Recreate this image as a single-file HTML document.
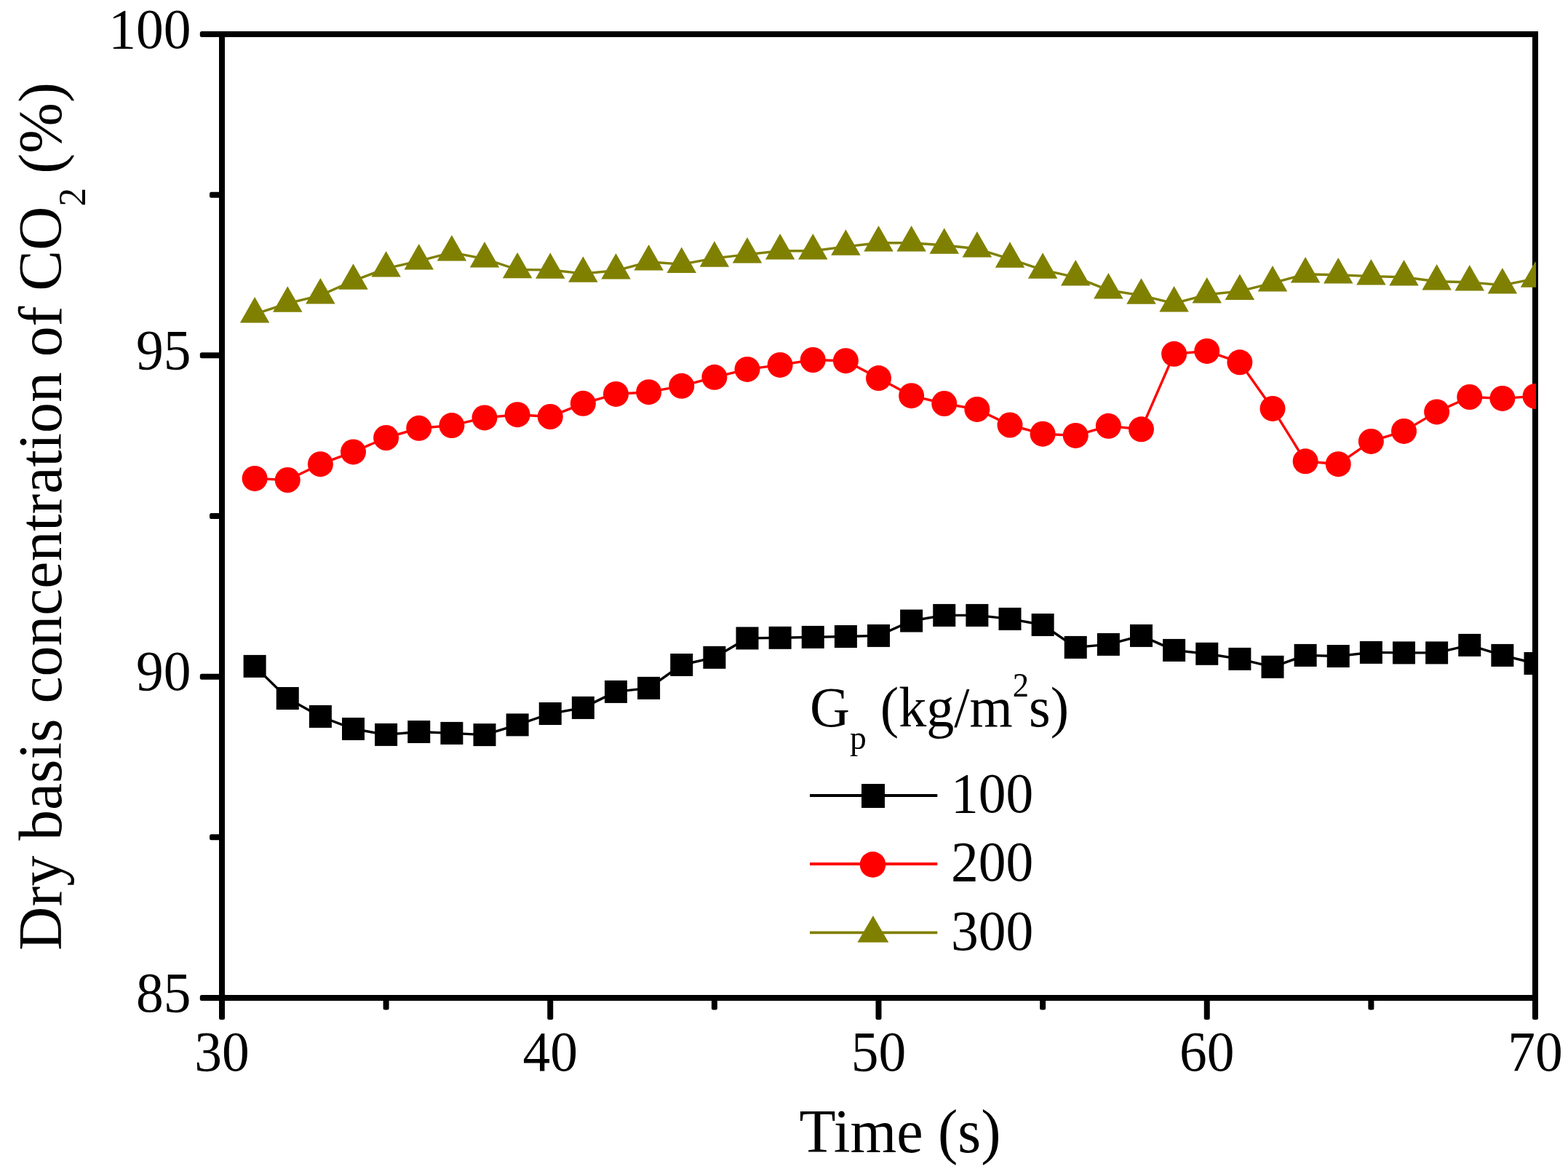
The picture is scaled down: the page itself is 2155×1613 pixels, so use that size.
<!DOCTYPE html>
<html><head><meta charset="utf-8"><title>Dry basis concentration of CO2</title>
<style>
html,body{margin:0;padding:0;background:#ffffff;}
body{width:2155px;height:1613px;overflow:hidden;}
svg{display:block;}
text{font-family:"Liberation Serif","Times New Roman",serif;fill:#000;}
</style></head><body>
<svg width="2155" height="1613" viewBox="0 0 2155 1613">
<defs><clipPath id="pc"><rect x="300" y="40" width="1811" height="1340"/></clipPath></defs>
<rect x="0" y="0" width="2155" height="1613" fill="#ffffff"/>

<g fill="none" stroke="#000" stroke-width="8" >
<rect x="305" y="47" width="1805" height="1324" stroke-linejoin="miter"/>
</g>
<g fill="#000">
<rect x="274.8" y="43" width="30.2" height="8" rx="2.5"/>
<rect x="288" y="263.67" width="17" height="8" rx="2.5"/>
<rect x="274.8" y="484.33" width="30.2" height="8" rx="2.5"/>
<rect x="288" y="705" width="17" height="8" rx="2.5"/>
<rect x="274.8" y="925.67" width="30.2" height="8" rx="2.5"/>
<rect x="288" y="1146.33" width="17" height="8" rx="2.5"/>
<rect x="274.8" y="1367" width="30.2" height="8" rx="2.5"/>
<rect x="301" y="1371" width="8" height="30" rx="2.5"/>
<rect x="526.62" y="1371" width="8" height="16.5" rx="2.5"/>
<rect x="752.25" y="1371" width="8" height="30" rx="2.5"/>
<rect x="977.88" y="1371" width="8" height="16.5" rx="2.5"/>
<rect x="1203.5" y="1371" width="8" height="30" rx="2.5"/>
<rect x="1429.12" y="1371" width="8" height="16.5" rx="2.5"/>
<rect x="1654.75" y="1371" width="8" height="30" rx="2.5"/>
<rect x="1880.38" y="1371" width="8" height="16.5" rx="2.5"/>
<rect x="2106" y="1371" width="8" height="30" rx="2.5"/>
</g>
<g clip-path="url(#pc)">
<polyline fill="none" stroke="#000000" stroke-width="3.4" stroke-linejoin="round" points="350.12,915.4 395.25,959.5 440.38,984.4 485.5,1001.5 530.62,1009.4 575.75,1005.5 620.88,1007.4 666,1009.6 711.12,995.9 756.25,980.5 801.38,972.4 846.5,950.4 891.62,945.4 936.75,913.5 981.88,903.3 1027,876.9 1072.12,876.3 1117.25,875.4 1162.38,874.5 1207.5,873.4 1252.62,853 1297.75,845.4 1342.88,845.4 1388,850.4 1433.12,858.5 1478.25,889.4 1523.38,885.4 1568.5,873.4 1613.62,893.4 1658.75,898.3 1703.88,905.4 1749,916.3 1794.12,900.4 1839.25,901.5 1884.38,896.4 1929.5,896.9 1974.62,896.9 2019.75,886.4 2064.88,900.4 2110,911.5"/>
<g fill="#000000">
<rect x="334.62" y="899.9" width="31" height="31"/>
<rect x="379.75" y="944" width="31" height="31"/>
<rect x="424.88" y="968.9" width="31" height="31"/>
<rect x="470" y="986" width="31" height="31"/>
<rect x="515.12" y="993.9" width="31" height="31"/>
<rect x="560.25" y="990" width="31" height="31"/>
<rect x="605.38" y="991.9" width="31" height="31"/>
<rect x="650.5" y="994.1" width="31" height="31"/>
<rect x="695.62" y="980.4" width="31" height="31"/>
<rect x="740.75" y="965" width="31" height="31"/>
<rect x="785.88" y="956.9" width="31" height="31"/>
<rect x="831" y="934.9" width="31" height="31"/>
<rect x="876.12" y="929.9" width="31" height="31"/>
<rect x="921.25" y="898" width="31" height="31"/>
<rect x="966.38" y="887.8" width="31" height="31"/>
<rect x="1011.5" y="861.4" width="31" height="31"/>
<rect x="1056.62" y="860.8" width="31" height="31"/>
<rect x="1101.75" y="859.9" width="31" height="31"/>
<rect x="1146.88" y="859" width="31" height="31"/>
<rect x="1192" y="857.9" width="31" height="31"/>
<rect x="1237.12" y="837.5" width="31" height="31"/>
<rect x="1282.25" y="829.9" width="31" height="31"/>
<rect x="1327.38" y="829.9" width="31" height="31"/>
<rect x="1372.5" y="834.9" width="31" height="31"/>
<rect x="1417.62" y="843" width="31" height="31"/>
<rect x="1462.75" y="873.9" width="31" height="31"/>
<rect x="1507.88" y="869.9" width="31" height="31"/>
<rect x="1553" y="857.9" width="31" height="31"/>
<rect x="1598.12" y="877.9" width="31" height="31"/>
<rect x="1643.25" y="882.8" width="31" height="31"/>
<rect x="1688.38" y="889.9" width="31" height="31"/>
<rect x="1733.5" y="900.8" width="31" height="31"/>
<rect x="1778.62" y="884.9" width="31" height="31"/>
<rect x="1823.75" y="886" width="31" height="31"/>
<rect x="1868.88" y="880.9" width="31" height="31"/>
<rect x="1914" y="881.4" width="31" height="31"/>
<rect x="1959.12" y="881.4" width="31" height="31"/>
<rect x="2004.25" y="870.9" width="31" height="31"/>
<rect x="2049.38" y="884.9" width="31" height="31"/>
<rect x="2094.5" y="896" width="31" height="31"/>
</g>
<polyline fill="none" stroke="#ff0000" stroke-width="3.4" stroke-linejoin="round" points="350.12,657.4 395.25,659.5 440.38,637.7 485.5,620.9 530.62,601.5 575.75,588.3 620.88,584.6 666,573.9 711.12,569.7 756.25,572.5 801.38,554.3 846.5,541.4 891.62,538.7 936.75,530.3 981.88,518.3 1027,507.4 1072.12,501.4 1117.25,494.5 1162.38,495.7 1207.5,519.6 1252.62,543.7 1297.75,554.5 1342.88,562.4 1388,584 1433.12,596.2 1478.25,598.4 1523.38,585.3 1568.5,589.8 1613.62,486.3 1658.75,482.4 1703.88,497.8 1749,561.4 1794.12,633.8 1839.25,637.7 1884.38,606.4 1929.5,592.4 1974.62,565.9 2019.75,545.5 2064.88,547.4 2110,544.4"/>
<g fill="#ff0000">
<circle cx="350.12" cy="657.4" r="17.5"/>
<circle cx="395.25" cy="659.5" r="17.5"/>
<circle cx="440.38" cy="637.7" r="17.5"/>
<circle cx="485.5" cy="620.9" r="17.5"/>
<circle cx="530.62" cy="601.5" r="17.5"/>
<circle cx="575.75" cy="588.3" r="17.5"/>
<circle cx="620.88" cy="584.6" r="17.5"/>
<circle cx="666" cy="573.9" r="17.5"/>
<circle cx="711.12" cy="569.7" r="17.5"/>
<circle cx="756.25" cy="572.5" r="17.5"/>
<circle cx="801.38" cy="554.3" r="17.5"/>
<circle cx="846.5" cy="541.4" r="17.5"/>
<circle cx="891.62" cy="538.7" r="17.5"/>
<circle cx="936.75" cy="530.3" r="17.5"/>
<circle cx="981.88" cy="518.3" r="17.5"/>
<circle cx="1027" cy="507.4" r="17.5"/>
<circle cx="1072.12" cy="501.4" r="17.5"/>
<circle cx="1117.25" cy="494.5" r="17.5"/>
<circle cx="1162.38" cy="495.7" r="17.5"/>
<circle cx="1207.5" cy="519.6" r="17.5"/>
<circle cx="1252.62" cy="543.7" r="17.5"/>
<circle cx="1297.75" cy="554.5" r="17.5"/>
<circle cx="1342.88" cy="562.4" r="17.5"/>
<circle cx="1388" cy="584" r="17.5"/>
<circle cx="1433.12" cy="596.2" r="17.5"/>
<circle cx="1478.25" cy="598.4" r="17.5"/>
<circle cx="1523.38" cy="585.3" r="17.5"/>
<circle cx="1568.5" cy="589.8" r="17.5"/>
<circle cx="1613.62" cy="486.3" r="17.5"/>
<circle cx="1658.75" cy="482.4" r="17.5"/>
<circle cx="1703.88" cy="497.8" r="17.5"/>
<circle cx="1749" cy="561.4" r="17.5"/>
<circle cx="1794.12" cy="633.8" r="17.5"/>
<circle cx="1839.25" cy="637.7" r="17.5"/>
<circle cx="1884.38" cy="606.4" r="17.5"/>
<circle cx="1929.5" cy="592.4" r="17.5"/>
<circle cx="1974.62" cy="565.9" r="17.5"/>
<circle cx="2019.75" cy="545.5" r="17.5"/>
<circle cx="2064.88" cy="547.4" r="17.5"/>
<circle cx="2110" cy="544.4" r="17.5"/>
</g>
<polyline fill="none" stroke="#808000" stroke-width="3.4" stroke-linejoin="round" points="350.12,431.7 395.25,416.9 440.38,405.8 485.5,385.9 530.62,368.8 575.75,358.6 620.88,346.8 666,355.7 711.12,370.5 756.25,370.9 801.38,375.9 846.5,371.8 891.62,359.8 936.75,363.1 981.88,354.9 1027,349.6 1072.12,344.7 1117.25,344.7 1162.38,338.9 1207.5,333.8 1252.62,333.8 1297.75,337 1342.88,341.8 1388,355.9 1433.12,370.9 1478.25,380.8 1523.38,398.7 1568.5,405.9 1613.62,416.8 1658.75,404.8 1703.88,400.1 1749,388.8 1794.12,376.7 1839.25,377.7 1884.38,379.6 1929.5,380.8 1974.62,386.8 2019.75,387.8 2064.88,391.8 2110,382.9"/>
<g fill="#808000">
<polygon points="350.12,408 370.38,443.5 329.88,443.5"/>
<polygon points="395.25,393.2 415.5,428.7 375,428.7"/>
<polygon points="440.38,382.1 460.62,417.6 420.12,417.6"/>
<polygon points="485.5,362.2 505.75,397.7 465.25,397.7"/>
<polygon points="530.62,345.1 550.88,380.6 510.38,380.6"/>
<polygon points="575.75,334.9 596,370.4 555.5,370.4"/>
<polygon points="620.88,323.1 641.12,358.6 600.62,358.6"/>
<polygon points="666,332 686.25,367.5 645.75,367.5"/>
<polygon points="711.12,346.8 731.38,382.3 690.88,382.3"/>
<polygon points="756.25,347.2 776.5,382.7 736,382.7"/>
<polygon points="801.38,352.2 821.62,387.7 781.12,387.7"/>
<polygon points="846.5,348.1 866.75,383.6 826.25,383.6"/>
<polygon points="891.62,336.1 911.88,371.6 871.38,371.6"/>
<polygon points="936.75,339.4 957,374.9 916.5,374.9"/>
<polygon points="981.88,331.2 1002.12,366.7 961.62,366.7"/>
<polygon points="1027,325.9 1047.25,361.4 1006.75,361.4"/>
<polygon points="1072.12,321 1092.38,356.5 1051.88,356.5"/>
<polygon points="1117.25,321 1137.5,356.5 1097,356.5"/>
<polygon points="1162.38,315.2 1182.62,350.7 1142.12,350.7"/>
<polygon points="1207.5,310.1 1227.75,345.6 1187.25,345.6"/>
<polygon points="1252.62,310.1 1272.88,345.6 1232.38,345.6"/>
<polygon points="1297.75,313.3 1318,348.8 1277.5,348.8"/>
<polygon points="1342.88,318.1 1363.12,353.6 1322.62,353.6"/>
<polygon points="1388,332.2 1408.25,367.7 1367.75,367.7"/>
<polygon points="1433.12,347.2 1453.38,382.7 1412.88,382.7"/>
<polygon points="1478.25,357.1 1498.5,392.6 1458,392.6"/>
<polygon points="1523.38,375 1543.62,410.5 1503.12,410.5"/>
<polygon points="1568.5,382.2 1588.75,417.7 1548.25,417.7"/>
<polygon points="1613.62,393.1 1633.88,428.6 1593.38,428.6"/>
<polygon points="1658.75,381.1 1679,416.6 1638.5,416.6"/>
<polygon points="1703.88,376.4 1724.12,411.9 1683.62,411.9"/>
<polygon points="1749,365.1 1769.25,400.6 1728.75,400.6"/>
<polygon points="1794.12,353 1814.38,388.5 1773.88,388.5"/>
<polygon points="1839.25,354 1859.5,389.5 1819,389.5"/>
<polygon points="1884.38,355.9 1904.62,391.4 1864.12,391.4"/>
<polygon points="1929.5,357.1 1949.75,392.6 1909.25,392.6"/>
<polygon points="1974.62,363.1 1994.88,398.6 1954.38,398.6"/>
<polygon points="2019.75,364.1 2040,399.6 1999.5,399.6"/>
<polygon points="2064.88,368.1 2085.12,403.6 2044.62,403.6"/>
<polygon points="2110,359.2 2130.25,394.7 2089.75,394.7"/>
</g>
</g>
<text transform="translate(262.5 65.8) scale(0.962 1)" font-size="78.5" text-anchor="end">100</text>
<text transform="translate(262.5 507.13) scale(0.962 1)" font-size="78.5" text-anchor="end">95</text>
<text transform="translate(262.5 948.47) scale(0.962 1)" font-size="78.5" text-anchor="end">90</text>
<text transform="translate(262.5 1389.8) scale(0.962 1)" font-size="78.5" text-anchor="end">85</text>
<text transform="translate(305 1471) scale(0.962 1)" font-size="78.5" text-anchor="middle">30</text>
<text transform="translate(756.25 1471) scale(0.962 1)" font-size="78.5" text-anchor="middle">40</text>
<text transform="translate(1207.5 1471) scale(0.962 1)" font-size="78.5" text-anchor="middle">50</text>
<text transform="translate(1658.75 1471) scale(0.962 1)" font-size="78.5" text-anchor="middle">60</text>
<text transform="translate(2110 1471) scale(0.962 1)" font-size="78.5" text-anchor="middle">70</text>
<text transform="translate(1098.5 1583) scale(0.961 1)" font-size="85.3">Time (s)</text>
<text transform="translate(84 1303.5) rotate(-90) scale(0.981 1)" font-size="85.3"><tspan x="-2.46">Dry basis concentration of CO</tspan><tspan font-size="52" dy="33.4">2</tspan><tspan x="1085.5" dy="-33.4">(%)</tspan></text>
<text transform="translate(1113 998) scale(0.97 1)" font-size="78.5">G<tspan font-size="47" dy="31">p</tspan><tspan dy="-31"> (kg/m</tspan><tspan font-size="46" dy="-41">2</tspan><tspan dy="41">s)</tspan></text>
<line x1="1113" y1="1093" x2="1288.3" y2="1093" stroke="#000000" stroke-width="3.8"/>
<rect x="1184" y="1077" width="32" height="33" fill="#000000"/>
<text transform="translate(1307 1115.8) scale(0.962 1)" font-size="78.5">100</text>
<line x1="1113" y1="1187" x2="1288.3" y2="1187" stroke="#ff0000" stroke-width="3.8"/>
<circle cx="1199.5" cy="1187.9" r="17.8" fill="#ff0000"/>
<text transform="translate(1307 1210.3) scale(0.962 1)" font-size="78.5">200</text>
<line x1="1113" y1="1281.4" x2="1288.3" y2="1281.4" stroke="#808000" stroke-width="3.8"/>
<polygon points="1199.9,1258 1221.3,1294.8 1178.5,1294.8" fill="#808000"/>
<text transform="translate(1307 1305.2) scale(0.962 1)" font-size="78.5">300</text>
</svg>
</body></html>
